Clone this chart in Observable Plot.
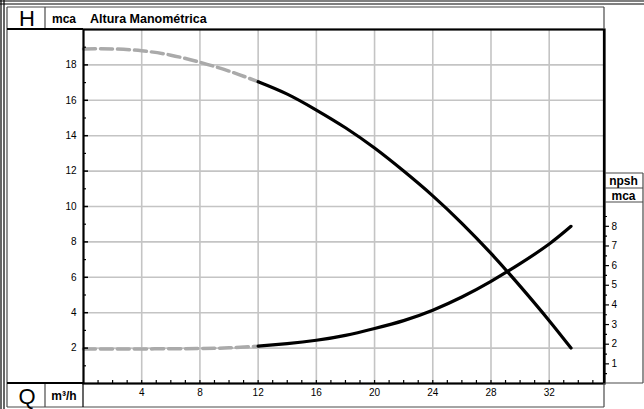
<!DOCTYPE html>
<html>
<head>
<meta charset="utf-8">
<script src="https://cdn.jsdelivr.net/npm/d3@7"></script>
<script src="https://cdn.jsdelivr.net/npm/@observablehq/plot@0.6"></script>
<style>
  html, body { margin: 0; padding: 0; background: #fff; }
  #chart { position: relative; width: 644px; height: 409px; }
</style>
</head>
<body>
<div id="chart"></div>
<script>
// ---- data ----
const hDashedQ = [0, 2, 4, 6, 8, 10, 12];
const hDashedH = [18.9, 18.9, 18.8, 18.55, 18.15, 17.65, 17.05];
const hSolidQ  = [12, 14, 16, 18, 20, 22, 24, 26, 28, 30, 32, 33.5];
const hSolidH  = [17.05, 16.35, 15.45, 14.45, 13.3, 12.0, 10.6, 9.05, 7.35, 5.5, 3.55, 2.0];
const npDashedQ = [0, 4, 8, 10, 12];
const npDashedV = [1.76, 1.76, 1.78, 1.82, 1.9];
const npSolidQ  = [12, 14, 16, 18, 20, 22, 24, 26, 28, 30, 32, 33.5];
const npSolidV  = [1.9, 2.03, 2.2, 2.45, 2.8, 3.2, 3.73, 4.4, 5.2, 6.1, 7.1, 8.0];

const xTickLabels = [4, 8, 12, 16, 20, 24, 28, 32];
const xMinorTicks = d3.range(1, 36);
const yTickLabels = [2, 4, 6, 8, 10, 12, 14, 16, 18];
const yMinorTicks = [1, 3, 5, 7, 9, 11, 13, 15, 17, 19];
const npshTickLabels = [1, 2, 3, 4, 5, 6, 7, 8];
const npshMinorTicks = [0.5, 1.5, 2.5, 3.5, 4.5, 5.5, 6.5, 7.5, 8.5];
const npshToH = 1.11; // npsh axis scale relative to H axis

// ---- layout ----
const W = 644, H = 409;
const mL = 83, mR = 40, mT = 29, mB = 26;

const toRows = (xs, ys, k = 1) => xs.map((q, i) => ({q, v: ys[i] * k}));
const font = "Liberation Sans, Arial, sans-serif";

const plot = Plot.plot({
  width: W, height: H,
  marginLeft: mL, marginRight: mR, marginTop: mT, marginBottom: mB,
  style: {fontFamily: font, fontSize: "10px", color: "black", background: "white"},
  x: {domain: [0, 35.8], label: null},
  y: {domain: [0, 20], label: null},
  marks: [
    Plot.gridX({ticks: xTickLabels, stroke: "#c4c4c4", strokeOpacity: 1, strokeWidth: 1.6}),
    Plot.gridY({ticks: yTickLabels, stroke: "#c4c4c4", strokeOpacity: 1, strokeWidth: 1.6}),
    // H curve
    Plot.line(toRows(hDashedQ, hDashedH), {x: "q", y: "v", stroke: "#aaaaaa", strokeWidth: 3.5, strokeDasharray: "12,5", curve: "natural"}),
    Plot.line(toRows(hSolidQ, hSolidH), {x: "q", y: "v", stroke: "black", strokeWidth: 3.2, curve: "natural"}),
    // NPSH curve (in npsh units, mapped onto the H scale)
    Plot.line(toRows(npDashedQ, npDashedV, npshToH), {x: "q", y: "v", stroke: "#aaaaaa", strokeWidth: 3.5, strokeDasharray: "12,5", curve: "natural"}),
    Plot.line(toRows(npSolidQ, npSolidV, npshToH), {x: "q", y: "v", stroke: "black", strokeWidth: 3.2, curve: "natural"}),
    // axes
    Plot.axisY({anchor: "left", ticks: yTickLabels, tickSize: -5, tickPadding: 12, strokeWidth: 1.5, label: null}),
    Plot.axisY({anchor: "left", ticks: yMinorTicks, tickSize: -3, tickFormat: () => "", strokeWidth: 1.2, label: null}),
    Plot.axisX({anchor: "bottom", ticks: xMinorTicks, tickSize: -3, tickFormat: () => "", strokeWidth: 1.2, label: null}),
    Plot.axisX({anchor: "bottom", ticks: xTickLabels, tickSize: 0, tickPadding: 5, label: null}),
    Plot.axisY({anchor: "right", ticks: npshTickLabels.map(v => v * npshToH), tickSize: 4, tickPadding: 3,
      tickFormat: d => String(Math.round(d / npshToH)), strokeWidth: 1.2, label: null}),
    Plot.axisY({anchor: "right", ticks: npshMinorTicks.map(v => v * npshToH), tickSize: 2, tickFormat: () => "", strokeWidth: 1.2, label: null}),
    Plot.frame({stroke: "black", strokeWidth: 2.2})
  ]
});

document.getElementById("chart").appendChild(plot);

// ---- decorations (header/footer boxes, npsh box, outer double border) ----
const svg = d3.select(plot);
const g = svg.append("g").attr("fill", "none");
const xR = W - mR, yB = H - mB;
const boxStroke = "#4a4a4a";
const line = (x1, y1, x2, y2, stroke = boxStroke, sw = 1.2) =>
  g.append("line").attr("x1", x1).attr("y1", y1).attr("x2", x2).attr("y2", y2)
   .attr("stroke", stroke).attr("stroke-width", sw);

// outer double border (top and left)
line(0, 1, W, 1, "black", 1.2);
line(0, 4, W, 4, "black", 1.2);
line(1, 0, 1, H, "black", 1.2);
line(4, 0, 4, H, "black", 1.2);

// header box
line(7, 7, xR, 7);
line(7, 7, 7, H - 2);
line(xR, 7, xR, mT);
line(45, 7, 45, mT);
line(7, mT, mL, mT, "black", 2);
// footer box
line(7, H - 2, xR, H - 2);
line(xR, yB, xR, H - 2);
line(45, yB, 45, H - 2);
line(mL, yB, mL, H - 2, "black", 1.2);
line(7, yB, mL, yB, "black", 2);
// npsh box
const nx2 = W - 1, nyT = 173, nyM = 188, nyB = 202;
line(xR, nyT, nx2, nyT);
line(nx2, nyT, nx2, yB);
line(xR, nyM, nx2, nyM);
line(xR, nyB, nx2, nyB);
line(xR, yB, nx2, yB);
line(xR, mT, xR, yB, "black", 2.2);

const t = (x, y, txt, size, weight, anchor = "middle") =>
  svg.append("text").attr("x", x).attr("y", y).attr("text-anchor", anchor)
    .attr("dominant-baseline", "central").attr("font-family", font)
    .attr("font-size", size).attr("font-weight", weight).attr("fill", "black").text(txt);

t(27, 18.5, "H", 22, "normal");
t(64, 18.5, "mca", 12, "bold");
t(90, 18.5, "Altura Manométrica", 12.5, "bold", "start");
t(27, 396, "Q", 22, "normal");
t(64, 396, "m³/h", 12, "bold");
t((xR + nx2) / 2, (nyT + nyM) / 2 + 0.5, "npsh", 12, "bold");
t((xR + nx2) / 2, (nyM + nyB) / 2 + 0.5, "mca", 12, "bold");
</script>
</body>
</html>
